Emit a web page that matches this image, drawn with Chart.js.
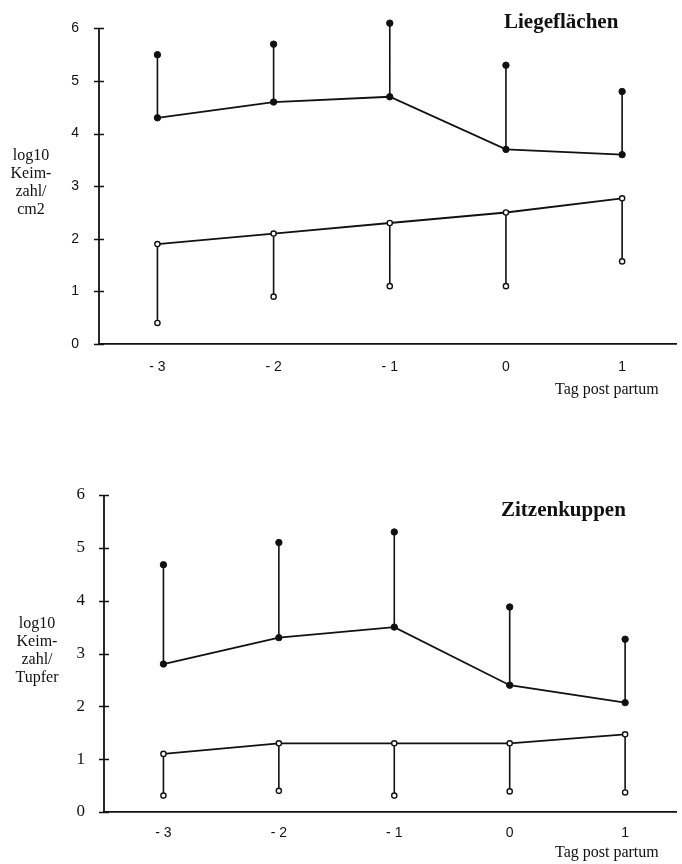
<!DOCTYPE html>
<html>
<head>
<meta charset="utf-8">
<script src="https://cdn.jsdelivr.net/npm/chart.js@4"></script>
<style>
  html, body { margin: 0; padding: 0; background: #fff; }
  body { width: 682px; height: 864px; position: relative; overflow: hidden; }
  .panel { position: absolute; left: 0; width: 682px; }
  .txt { position: absolute; color: #111; font-family: "Liberation Serif", "DejaVu Serif", serif; }
  .title { font-weight: bold; font-size: 21px; white-space: nowrap; }
  .ylab { font-size: 16px; line-height: 18px; text-align: center; width: 70px; }
  .xlab { font-size: 16px; white-space: nowrap; }
</style>
</head>
<body>
<div class="panel" style="top:0;height:410px"><canvas id="chartTop"></canvas></div>
<div class="panel" style="top:460px;height:404px"><canvas id="chartBottom"></canvas></div>

<div class="txt title" style="left:504px;top:9px">Liegeflächen</div>
<div class="txt ylab" style="left:-4px;top:146px">log10<br>Keim-<br>zahl/<br>cm2</div>
<div class="txt xlab" style="left:555px;top:380px">Tag post partum</div>

<div class="txt title" style="left:501px;top:497px">Zitzenkuppen</div>
<div class="txt ylab" style="left:2px;top:614px">log10<br>Keim-<br>zahl/<br>Tupfer</div>
<div class="txt xlab" style="left:555px;top:843px">Tag post partum</div>

<script>
/* Keimzahl (log10) vor/nach der Geburt — two panels */

const days = [-3, -2, -1, 0, 1];
const yTicks = [0, 1, 2, 3, 4, 5, 6];

// Liegeflächen
const lfMean = [4.3, 4.6, 4.7, 3.7, 3.6];
const lfUpper = [5.5, 5.7, 6.1, 5.3, 4.8];
const lfOpenMean = [1.9, 2.1, 2.3, 2.5, 2.77];
const lfOpenLower = [0.4, 0.9, 1.1, 1.1, 1.57];

// Zitzenkuppen
const zkMean = [2.8, 3.3, 3.5, 2.4, 2.07];
const zkUpper = [4.68, 5.1, 5.3, 3.88, 3.27];
const zkOpenMean = [1.1, 1.3, 1.3, 1.3, 1.47];
const zkOpenLower = [0.31, 0.4, 0.31, 0.39, 0.37];

const INK = '#111';

function pts(ys) {
    return days.map((d, i) => ({ x: d, y: ys[i] }));
}

// vertical whisker segments, separated by gaps
function whiskers(from, to) {
    const out = [];
    days.forEach((d, i) => {
        out.push({ x: d, y: from[i] }, { x: d, y: to[i] }, { x: d, y: null });
    });
    return out;
}

// y axis line from 0 to 6 with ticks crossing it
const yAxisLine = {
    id: 'yAxisLine',
    afterDraw(chart) {
        const y = chart.scales.y;
        const ax = chart.chartArea.left;
        const ctx = chart.ctx;
        ctx.save();
        ctx.strokeStyle = INK;
        ctx.lineWidth = 1.8;
        ctx.beginPath();
        ctx.moveTo(ax, y.getPixelForValue(yTicks[0]));
        ctx.lineTo(ax, y.getPixelForValue(yTicks[yTicks.length - 1]));
        ctx.stroke();
        ctx.lineWidth = 1.5;
        yTicks.forEach(v => {
            const py = Math.round(y.getPixelForValue(v)) + 0.5;
            ctx.beginPath();
            ctx.moveTo(ax - 5, py);
            ctx.lineTo(ax + 5, py);
            ctx.stroke();
        });
        ctx.restore();
    },
};

function makeChart(id, cfg) {
    const filledPt = { pointRadius: 3.2, pointBackgroundColor: INK, pointBorderColor: INK, pointBorderWidth: 1 };
    const openPt = { pointRadius: 2.6, pointBackgroundColor: '#fff', pointBorderColor: INK, pointBorderWidth: 1.4 };
    return new Chart(document.getElementById(id), {
        type: 'line',
        data: {
            datasets: [
                { data: whiskers(cfg.mean, cfg.upper), borderColor: INK, borderWidth: 1.6, pointRadius: 0, spanGaps: false, clip: false, order: 5 },
                { data: whiskers(cfg.openMean, cfg.openLower), borderColor: INK, borderWidth: 1.6, pointRadius: 0, spanGaps: false, clip: false, order: 5 },
                Object.assign({ data: pts(cfg.mean), borderColor: INK, borderWidth: 1.8, clip: false, order: 2 }, filledPt),
                Object.assign({ data: pts(cfg.upper), showLine: false, clip: false, order: 1 }, filledPt),
                Object.assign({ data: pts(cfg.openMean), borderColor: INK, borderWidth: 1.8, clip: false, order: 2 }, openPt),
                Object.assign({ data: pts(cfg.openLower), showLine: false, clip: false, order: 1 }, openPt),
            ],
        },
        options: {
            responsive: true,
            maintainAspectRatio: false,
            animation: false,
            layout: { padding: { top: cfg.padTop, left: 0, right: 0, bottom: 0 } },
            plugins: { legend: { display: false }, tooltip: { enabled: false } },
            elements: { line: { tension: 0 } },
            scales: {
                x: {
                    type: 'linear',
                    min: cfg.xMin,
                    max: cfg.xMax,
                    afterBuildTicks: s => { s.ticks = days.map(v => ({ value: v })); },
                    afterFit: s => { s.height = cfg.xAxisHeight; },
                    grid: { display: true, drawOnChartArea: false, drawTicks: false },
                    border: { display: true, color: INK, width: 1.8 },
                    ticks: {
                        color: INK,
                        padding: cfg.xPad,
                        maxRotation: 0,
                        font: { family: '"Liberation Sans", Arial, sans-serif', size: 14 },
                        callback: v => (v < 0 ? '- ' + Math.abs(v) : String(v)),
                    },
                },
                y: {
                    min: 0,
                    max: cfg.yMax,
                    afterBuildTicks: s => { s.ticks = yTicks.map(v => ({ value: v })); },
                    afterFit: s => { s.width = cfg.yAxisWidth; },
                    grid: { display: false },
                    border: { display: false },
                    ticks: {
                        color: INK,
                        padding: cfg.yPad,
                        font: cfg.yFont,
                    },
                },
            },
        },
        plugins: [yAxisLine],
    });
}

makeChart('chartTop', {
    mean: lfMean, upper: lfUpper, openMean: lfOpenMean, openLower: lfOpenLower,
    yMax: 6.152, padTop: 20, xAxisHeight: 66, yAxisWidth: 99, xPad: 15, yPad: 12,
    xMin: -3.503, xMax: 1.469,
    yFont: { family: '"Liberation Sans", Arial, sans-serif', size: 14 },
});

makeChart('chartBottom', {
    mean: zkMean, upper: zkUpper, openMean: zkOpenMean, openLower: zkOpenLower,
    yMax: 6, padTop: 35, xAxisHeight: 52, yAxisWidth: 104, xPad: 13, yPad: 11,
    xMin: -3.515, xMax: 1.446,
    yFont: { family: '"Liberation Serif", "Times New Roman", serif', size: 17 },
});
</script>
</body>
</html>
